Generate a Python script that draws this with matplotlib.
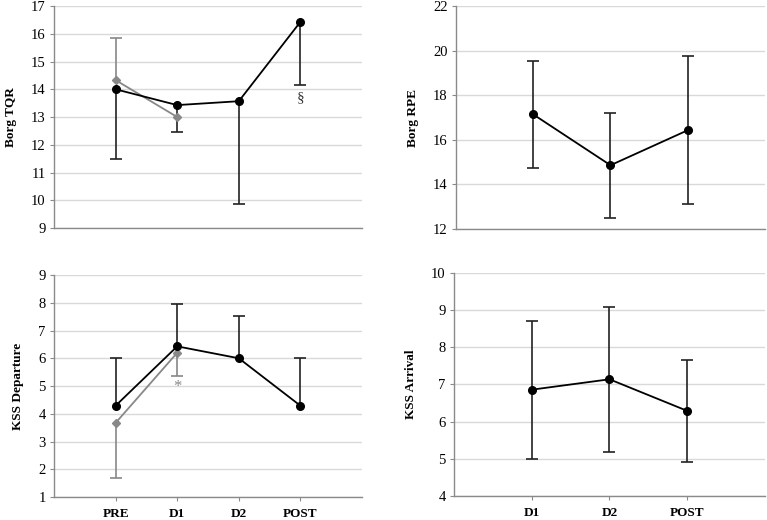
import matplotlib
matplotlib.use("Agg")
import matplotlib.pyplot as plt

plt.rcParams['font.family'] = ['Liberation Serif', 'DejaVu Serif']

# ---- data ----
cats4 = ["PRE", "D1", "D2", "POST"]
cats3 = ["D1", "D2", "POST"]

tqr_black = [14.0, 13.43, 13.57, 16.43]
tqr_black_lo = [2.5, 0.98, 3.72, 2.28]
tqr_gray = [14.33, 13.0]
tqr_gray_hi = [1.52, None]

rpe = [17.14, 14.86, 16.43]
rpe_err = [2.4, 2.35, 3.32]

kssd_black = [4.29, 6.43, 6.0, 4.29]
kssd_black_hi = [1.71, 1.52, 1.53, 1.71]
kssd_gray = [3.67, 6.2]
kssd_gray_lo = [1.97, 0.83]

kssa = [6.86, 7.14, 6.29]
kssa_err = [1.86, 1.95, 1.38]

GRAY = "#888888"
DARK = "#222222"
SPINE = "#8a8a8a"
GRID = "#d9d9d9"

fig = plt.figure(figsize=(7.67, 5.2), dpi=100)

def style(ax, ylim, step, ylabel, cats, show_x):
    n = len(cats)
    ax.set_xlim(-1, n)
    ax.set_ylim(*ylim)
    ax.set_yticks(range(ylim[0], ylim[1] + 1, step))
    ax.set_xticks(range(n))
    ax.set_xticklabels(cats if show_x else [""] * n, fontweight="bold", fontsize=9.5)
    ax.tick_params(axis="y", labelsize=10.5, length=3, color=SPINE, pad=3)
    ax.tick_params(axis="x", length=3 if show_x else 0, color=SPINE, pad=5)
    for s in ["top", "right"]:
        ax.spines[s].set_visible(False)
    for s in ["left", "bottom"]:
        ax.spines[s].set_color(SPINE)
        ax.spines[s].set_linewidth(1.0)
    ax.grid(axis="y", color=GRID, linewidth=1.0)
    ax.set_axisbelow(True)
    ax.set_ylabel(ylabel, fontweight="bold", fontsize=9.5, labelpad=10)

def one_sided(ax, x, y, err, side, color, z):
    """Draw error bars on one side only (side='lo' or 'hi')."""
    zeros = [0] * len(err)
    yerr = [err, zeros] if side == "lo" else [zeros, err]
    _, caps, _ = ax.errorbar(x, y, yerr=yerr, fmt="none", ecolor=color,
                             elinewidth=1.2, capsize=4, capthick=1.2, zorder=z)
    # hide the cap sitting on the data point
    if len(caps) == 2:
        caps[1 if side == "lo" else 0].set_visible(False)

# Top-left: Borg TQR
ax1 = fig.add_axes([0.0704, 0.5615, 0.4016, 0.4269])
style(ax1, (9, 17), 1, "Borg TQR", cats4, False)
x4 = list(range(4))
one_sided(ax1, x4, tqr_black, tqr_black_lo, "lo", DARK, 3)
gx = [i for i, e in enumerate(tqr_gray_hi) if e is not None]
one_sided(ax1, gx, [tqr_gray[i] for i in gx], [tqr_gray_hi[i] for i in gx], "hi", GRAY, 2)
ax1.plot(range(len(tqr_gray)), tqr_gray, color=GRAY, marker="D", markersize=4.5,
         linewidth=1.3, zorder=4)
ax1.plot(x4, tqr_black, color="black", marker="o", markersize=5.5,
         linewidth=1.3, zorder=5)
ax1.text(3, 13.7, "§", ha="center", va="center", fontsize=11, color="#333333")

# Top-right: Borg RPE
ax2 = fig.add_axes([0.5945, 0.5596, 0.4029, 0.4288])
style(ax2, (12, 22), 2, "Borg RPE", cats3, False)
x3 = list(range(3))
ax2.errorbar(x3, rpe, yerr=rpe_err, fmt="none", ecolor=DARK,
             elinewidth=1.2, capsize=4, capthick=1.2, zorder=3)
ax2.plot(x3, rpe, color="black", marker="o", markersize=5.5, linewidth=1.3, zorder=5)

# Bottom-left: KSS Departure
ax3 = fig.add_axes([0.0704, 0.0442, 0.4016, 0.4269])
style(ax3, (1, 9), 1, "KSS Departure", cats4, True)
one_sided(ax3, x4, kssd_black, kssd_black_hi, "hi", DARK, 3)
gx2 = list(range(len(kssd_gray)))
one_sided(ax3, gx2, kssd_gray, kssd_gray_lo, "lo", GRAY, 2)
ax3.plot(gx2, kssd_gray, color=GRAY, marker="D", markersize=4.5, linewidth=1.3, zorder=4)
ax3.plot(x4, kssd_black, color="black", marker="o", markersize=5.5, linewidth=1.3, zorder=5)
ax3.text(1, 4.95, "*", ha="center", va="center", fontsize=12, color=GRAY)

# Bottom-right: KSS Arrival
ax4 = fig.add_axes([0.5919, 0.0462, 0.4055, 0.4288])
style(ax4, (4, 10), 1, "KSS Arrival", cats3, True)
ax4.errorbar(x3, kssa, yerr=kssa_err, fmt="none", ecolor=DARK,
             elinewidth=1.2, capsize=4, capthick=1.2, zorder=3)
ax4.plot(x3, kssa, color="black", marker="o", markersize=5.5, linewidth=1.3, zorder=5)

fig.savefig("out.png", dpi=100)
